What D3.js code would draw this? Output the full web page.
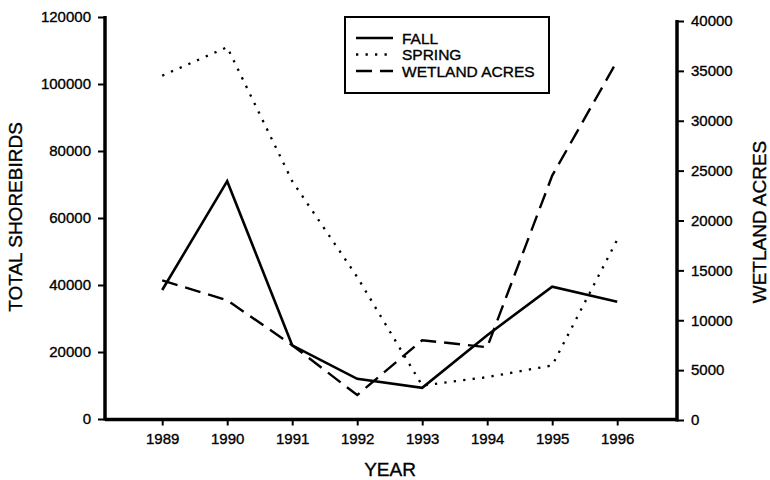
<!DOCTYPE html>
<html>
<head>
<meta charset="utf-8">
<script src="https://cdn.jsdelivr.net/npm/d3@7"></script>
<style>
  body { margin: 0; background: #fff; }
  svg text { font-family: "Liberation Sans", Arial, sans-serif; fill: #000; stroke: #000; stroke-width: 0.35px; }
</style>
</head>
<body>
<div id="chart"></div>
<script>
// data
const years = [1989, 1990, 1991, 1992, 1993, 1994, 1995, 1996];
const fall = [38500, 71000, 22000, 12000, 9300, 25000, 39500, 35000];
const spring = [102500, 111000, 71000, 42400, 10000, 12500, 16000, 53500];
const wetland = [14000, 12000, 7500, 2500, 8000, 7300, 24500, 36000];
const leftTicks = [0, 20000, 40000, 60000, 80000, 100000, 120000];
const rightTicks = [0, 5000, 10000, 15000, 20000, 25000, 30000, 35000, 40000];

const width = 770, height = 480;
const left = 105, right = 677;

const svg = d3.select("#chart").append("svg")
    .attr("width", width)
    .attr("height", height);

const x = d3.scaleLinear().domain([1988.12, 1996.92]).range([left, right]);
const yL = d3.scaleLinear().domain([0, 120000]).range([419, 17]);
const yR = d3.scaleLinear().domain([0, 40000]).range([420, 21]);

// left axis
const gL = svg.append("g")
    .attr("transform", "translate(" + left + ",0)")
    .call(d3.axisLeft(yL).tickValues(leftTicks).tickSize(7).tickPadding(7).tickFormat(d3.format("d")));
gL.select(".domain").remove();
gL.selectAll(".tick line").attr("stroke-width", 2);
gL.selectAll(".tick text").style("font-size", "15px");
svg.append("line")
    .attr("x1", left).attr("x2", left)
    .attr("y1", yL(120000) - 1).attr("y2", yL(0) + 1.5)
    .attr("stroke", "#000").attr("stroke-width", 3.5);

// right axis
const gR = svg.append("g")
    .attr("transform", "translate(" + right + ",0)")
    .call(d3.axisRight(yR).tickValues(rightTicks).tickSize(7).tickPadding(7).tickFormat(d3.format("d")));
gR.select(".domain").remove();
gR.selectAll(".tick line").attr("stroke-width", 2);
gR.selectAll(".tick text").style("font-size", "15px");
svg.append("line")
    .attr("x1", right).attr("x2", right)
    .attr("y1", yR(40000) - 1).attr("y2", yR(0) + 1.5)
    .attr("stroke", "#000").attr("stroke-width", 3.5);

// bottom axis
const gB = svg.append("g")
    .attr("transform", "translate(0,419.5)")
    .call(d3.axisBottom(x).tickValues(years).tickSize(6).tickPadding(8).tickFormat(d3.format("d")));
gB.select(".domain").remove();
gB.selectAll(".tick line").attr("stroke-width", 2);
gB.selectAll(".tick text").style("font-size", "15px");
svg.append("line")
    .attr("x1", left).attr("x2", right)
    .attr("y1", 419.5).attr("y2", 419.5)
    .attr("stroke", "#000").attr("stroke-width", 3.5);

// axis titles
svg.append("text")
    .attr("transform", "translate(22,217) rotate(-90)")
    .attr("text-anchor", "middle")
    .style("font-size", "19px")
    .text("TOTAL SHOREBIRDS");

svg.append("text")
    .attr("transform", "translate(766,222) rotate(-90)")
    .attr("text-anchor", "middle")
    .style("font-size", "19px")
    .text("WETLAND ACRES");

svg.append("text")
    .attr("x", 390).attr("y", 476)
    .attr("text-anchor", "middle")
    .style("font-size", "19px")
    .text("YEAR");

// series
const lineL = d3.line().x((d, i) => x(years[i])).y(d => yL(d));
const lineR = d3.line().x((d, i) => x(years[i])).y(d => yR(d));

const styles = {
    fall: { width: 2.6, dash: null },
    spring: { width: 2.3, dash: "2.3,7.2" },
    wetland: { width: 2.4, dash: "16,8" }
};

svg.append("path")
    .attr("d", lineL(spring))
    .attr("fill", "none").attr("stroke", "#000")
    .attr("stroke-width", styles.spring.width)
    .attr("stroke-dasharray", styles.spring.dash);

svg.append("path")
    .attr("d", lineR(wetland))
    .attr("fill", "none").attr("stroke", "#000")
    .attr("stroke-width", styles.wetland.width)
    .attr("stroke-dasharray", styles.wetland.dash);

svg.append("path")
    .attr("d", lineL(fall))
    .attr("fill", "none").attr("stroke", "#000")
    .attr("stroke-width", styles.fall.width)
    .attr("stroke-linejoin", "miter");

// legend
const legendItems = [
    { name: "FALL", style: styles.fall },
    { name: "SPRING", style: styles.spring },
    { name: "WETLAND ACRES", style: styles.wetland }
];

const lg = svg.append("g");
lg.append("rect")
    .attr("x", 345).attr("y", 17)
    .attr("width", 204).attr("height", 76)
    .attr("fill", "#fff").attr("stroke", "#000").attr("stroke-width", 2);

legendItems.forEach(function(item, i) {
    let yy = 38 + i * 16.5;
    lg.append("line")
        .attr("x1", 356).attr("x2", 393)
        .attr("y1", yy).attr("y2", yy)
        .attr("stroke", "#000")
        .attr("stroke-width", item.style.width)
        .attr("stroke-dasharray", item.style.dash);
    lg.append("text")
        .attr("x", 402).attr("y", yy + 5.5)
        .style("font-size", "15.5px")
        .text(item.name);
});
</script>
</body>
</html>
